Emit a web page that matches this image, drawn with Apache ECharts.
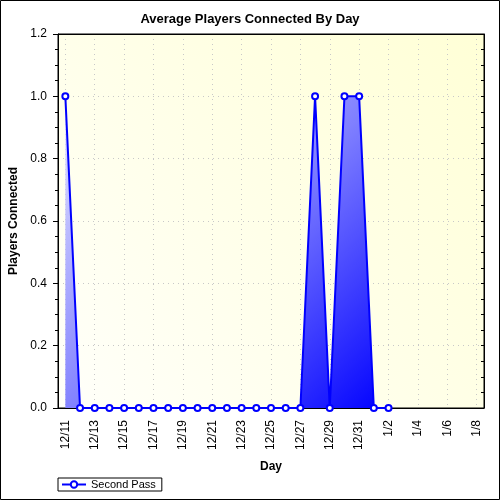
<!DOCTYPE html>
<html>
<head>
<meta charset="utf-8">
<script src="https://cdn.jsdelivr.net/npm/echarts@6/dist/echarts.min.js"></script>
<style>html,body{margin:0;padding:0;background:#fff;}#c{width:500px;height:500px;}</style>
</head>
<body>
<div id="c"></div>
<script>
const days = ['12/11','12/12','12/13','12/14','12/15','12/16','12/17','12/18','12/19','12/20','12/21','12/22','12/23','12/24','12/25','12/26','12/27','12/28','12/29','12/30','12/31','1/1','1/2','1/3','1/4','1/5','1/6','1/7','1/8'];
const secondPass = [1,0,0,0,0,0,0,0,0,0,0,0,0,0,0,0,0,1,0,1,1,0,0];
const yTicks = {min:0, max:1.2, step:0.2};

const chart = echarts.init(document.getElementById('c'), null, {renderer:'canvas'});
const font = 'Liberation Sans, Arial, sans-serif';
const catBase = {type:'category', data:days, boundaryGap:true, gridIndex:0};
chart.setOption({
  animation:false,
  backgroundColor:'#fff',
  title:{text:'Average Players Connected By Day', left:'center', top:8,
    textStyle:{fontFamily:font, fontSize:13, fontWeight:'bold', color:'#000'}},
  legend:{left:58, top:478, orient:'horizontal', padding:[1,6,1,3], itemWidth:24, itemHeight:8,
    borderColor:'#000', borderWidth:1, borderRadius:0,
    textStyle:{fontFamily:font, fontSize:11, color:'#000'}},
  grid:{left:58, right:16, top:34, bottom:92, show:true, borderColor:'#000', borderWidth:1,
    outerBoundsMode:'none', containLabel:false,
    backgroundColor:new echarts.graphic.LinearGradient(0,1,1,0,[{offset:0,color:'#fffffa'},{offset:1,color:'#ffffd6'}])},
  graphic:[{type:'rect', shape:{x:0.5,y:0.5,width:499,height:499}, style:{fill:'none', stroke:'#000', lineWidth:1}, silent:true}],
  xAxis:[
    Object.assign({}, catBase, {position:'bottom', name:'Day', nameLocation:'middle', nameGap:53,
      nameTextStyle:{fontFamily:font, fontSize:12, fontWeight:'bold', color:'#000'},
      axisLine:{lineStyle:{color:'#000', width:1}},
      axisTick:{alignWithLabel:true, interval:0, length:2, lineStyle:{color:'#000'}},
      axisLabel:{interval:1, rotate:90, margin:12, fontFamily:font, fontSize:12, color:'#000'},
      splitLine:{show:true, alignWithLabel:true, interval:1, lineStyle:{color:'#c8c8c8', type:[1,4], width:1}}}),
    Object.assign({}, catBase, {position:'bottom',
      axisLine:{show:false},
      axisTick:{alignWithLabel:true, interval:1, length:5, lineStyle:{color:'#000'}},
      axisLabel:{show:false}, splitLine:{show:false}}),
    Object.assign({}, catBase, {position:'top',
      axisLine:{show:true, lineStyle:{color:'#000'}},
      axisTick:{alignWithLabel:true, interval:0, inside:true, length:3, lineStyle:{color:'#000'}},
      axisLabel:{show:false}, splitLine:{show:false}}),
  ],
  yAxis:[
    {type:'value', min:yTicks.min, max:yTicks.max, interval:yTicks.step, position:'left',
      name:'Players Connected', nameLocation:'middle', nameGap:33,
      nameTextStyle:{fontFamily:font, fontSize:12, fontWeight:'bold', color:'#000'},
      axisLine:{show:true, lineStyle:{color:'#000'}},
      axisTick:{show:true, length:5, lineStyle:{color:'#000'}},
      minorTick:{show:true, splitNumber:4, length:3, lineStyle:{color:'#000'}},
      axisLabel:{margin:11, fontFamily:font, fontSize:12, color:'#000', formatter:v=>v.toFixed(1)},
      splitLine:{show:true, lineStyle:{color:'#c8c8c8', type:[1,4], width:1}}},
    {type:'value', min:yTicks.min, max:yTicks.max, interval:yTicks.step, position:'right',
      axisLine:{show:true, lineStyle:{color:'#000'}},
      axisTick:{show:true, inside:true, length:3, lineStyle:{color:'#000'}},
      minorTick:{show:true, splitNumber:4, length:3, lineStyle:{color:'#000'}},
      axisLabel:{show:false}, splitLine:{show:false}}
  ],
  series:[{
    name:'Second Pass', type:'line', xAxisIndex:0, yAxisIndex:0, data:secondPass,
    symbol:'emptyCircle', symbolSize:6, showAllSymbol:true,
    lineStyle:{color:'#0000ff', width:2},
    itemStyle:{color:'#0000ff', borderColor:'#0000ff', borderWidth:1},
    areaStyle:{opacity:1, color:new echarts.graphic.LinearGradient(0,0,1,1,[{offset:0,color:'#e6e6ff'},{offset:0.5,color:'#8080ff'},{offset:1,color:'#0000ff'}])}
  }]
});
</script>
</body>
</html>
